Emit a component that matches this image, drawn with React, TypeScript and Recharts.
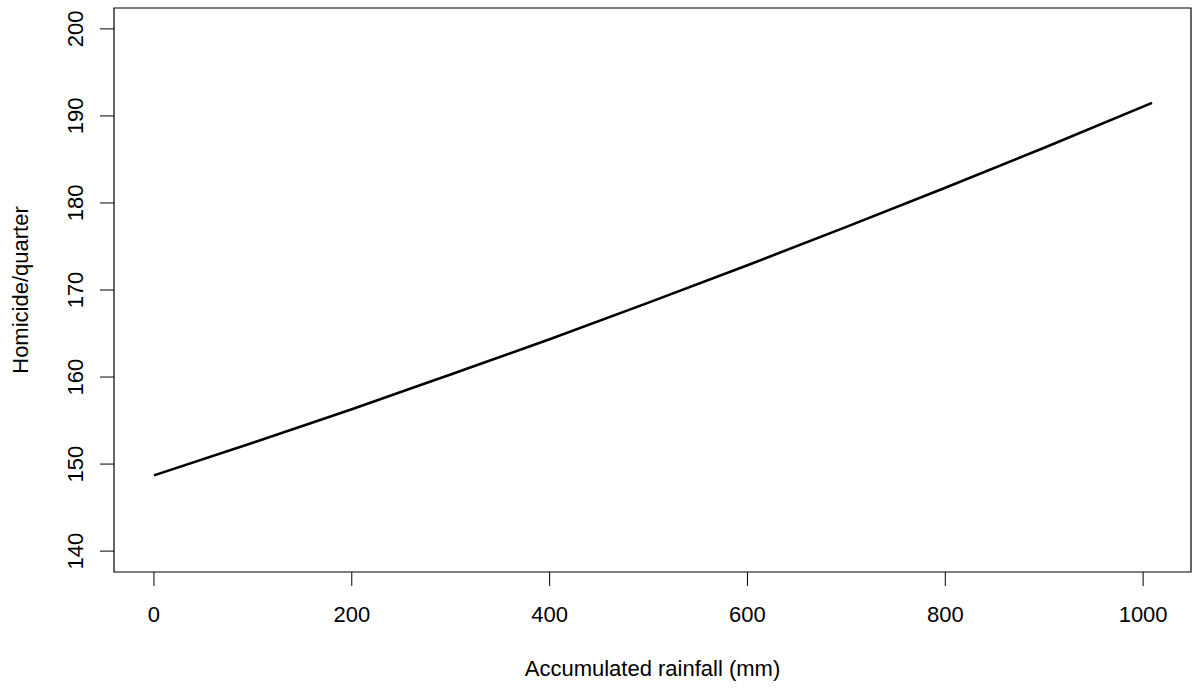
import { Line, LineChart, ReferenceArea, XAxis, YAxis } from "recharts";

// rainfall (mm) and fitted homicides per quarter
const RAINFALL = [0, 100, 200, 300, 400, 500, 600, 700, 800, 900, 1009];
const HOMICIDES = [148.7, 152.45, 156.3, 160.3, 164.35, 168.55, 172.85, 177.25, 181.75, 186.35, 191.5];

const X_TICKS = [0, 200, 400, 600, 800, 1000];
const Y_TICKS = [140, 150, 160, 170, 180, 190, 200];

// R-style 4% padding around the data range
const X_DOMAIN: [number, number] = [-40.4, 1048.4];
const Y_DOMAIN: [number, number] = [137.6, 202.4];

const FONT = '"Liberation Sans", Arial, sans-serif';
const FONT_SIZE = 22;

const data = RAINFALL.map((x, i) => ({ x, y: HOMICIDES[i] }));

function RotatedTick(props: { x?: number; y?: number; payload?: { value: number } }) {
  const { x = 0, y = 0, payload } = props;
  return (
    <text
      x={x}
      y={y}
      transform={`rotate(-90, ${x}, ${y})`}
      textAnchor="middle"
      fontFamily={FONT}
      fontSize={FONT_SIZE}
      fill="#000"
    >
      {payload?.value}
    </text>
  );
}

export default function App() {
  return (
    <div style={{ position: "absolute", left: 0, top: 0, background: "#fff" }}>
      <LineChart width={1192} height={688} data={data} margin={{ top: 8, right: 1, bottom: 0, left: 0 }}>
        <XAxis
          dataKey="x"
          type="number"
          domain={X_DOMAIN}
          ticks={X_TICKS}
          allowDataOverflow
          height={116}
          axisLine={false}
          tickSize={14}
          tickMargin={20}
          tickLine={{ stroke: "#000", strokeWidth: 1 }}
          tick={{ fill: "#000", fontSize: FONT_SIZE, fontFamily: FONT }}
          label={{
            value: "Accumulated rainfall (mm)",
            position: "insideBottom",
            offset: 12,
            fill: "#000",
            fontSize: FONT_SIZE,
            fontFamily: FONT,
          }}
        />
        <YAxis
          type="number"
          domain={Y_DOMAIN}
          ticks={Y_TICKS}
          allowDataOverflow
          width={114}
          axisLine={false}
          tickSize={14}
          tickMargin={17}
          tickLine={{ stroke: "#000", strokeWidth: 1 }}
          tick={<RotatedTick />}
          label={{
            value: "Homicide/quarter",
            angle: -90,
            position: "insideLeft",
            offset: 20,
            fill: "#000",
            fontSize: FONT_SIZE,
            fontFamily: FONT,
            style: { textAnchor: "middle" },
          }}
        />
        <ReferenceArea
          x1={X_DOMAIN[0]}
          x2={X_DOMAIN[1]}
          y1={Y_DOMAIN[0]}
          y2={Y_DOMAIN[1]}
          fill="none"
          stroke="#000"
          strokeWidth={1.2}
        />
        <Line
          dataKey="y"
          type="monotone"
          dot={false}
          stroke="#000"
          strokeWidth={2.6}
          isAnimationActive={false}
        />
      </LineChart>
    </div>
  );
}
